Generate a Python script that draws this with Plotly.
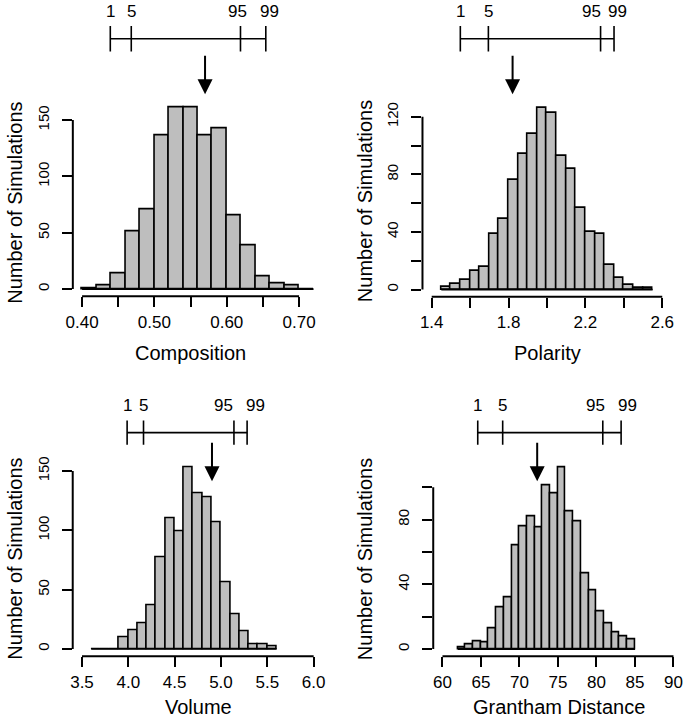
import plotly.graph_objects as go

W, H = 686, 720

# ---------------- data ----------------
comp_bin_start = 0.40
comp_bin_width = 0.02
comp_counts = [1, 3, 14, 51, 71, 136, 161, 161, 136, 143, 65, 39, 11, 5, 3, 0]
comp_xlim = [0.40, 0.72]
comp_xticks = [0.40, 0.45, 0.50, 0.55, 0.60, 0.65, 0.70]
comp_xticklabels = ["0.40", "", "0.50", "", "0.60", "", "0.70"]
comp_yticks = [0, 50, 100, 150]
comp_yticklabels = ["0", "50", "100", "150"]
comp_percentiles = [0.439, 0.468, 0.619, 0.654]
comp_observed = 0.570

pol_bin_start = 1.45
pol_bin_width = 0.05
pol_counts = [2, 4, 7, 13, 16, 39, 49, 76, 94, 108, 126, 123, 93, 84, 57, 40, 39, 17, 8, 3, 1, 1]
pol_xlim = [1.4, 2.6]
pol_xticks = [1.4, 1.6, 1.8, 2.0, 2.2, 2.4, 2.6]
pol_xticklabels = ["1.4", "", "1.8", "", "2.2", "", "2.6"]
pol_yticks = [0, 20, 40, 60, 80, 100, 120]
pol_yticklabels = ["0", "", "40", "", "80", "", "120"]
pol_percentiles = [1.549, 1.695, 2.279, 2.349]
pol_observed = 1.821

vol_bin_start = 3.6
vol_bin_width = 0.1
vol_counts = [0, 0, 0, 10, 16, 22, 37, 77, 110, 99, 153, 131, 128, 107, 56, 29, 15, 4, 4, 2]
vol_xlim = [3.5, 6.0]
vol_xticks = [3.5, 4.0, 4.5, 5.0, 5.5, 6.0]
vol_xticklabels = ["3.5", "4.0", "4.5", "5.0", "5.5", "6.0"]
vol_yticks = [0, 50, 100, 150]
vol_yticklabels = ["0", "50", "100", "150"]
vol_percentiles = [3.987, 4.164, 5.140, 5.282]
vol_observed = 4.903

gd_bin_start = 62
gd_bin_width = 1
gd_counts = [1, 3, 5, 4, 13, 26, 32, 64, 76, 82, 75, 101, 96, 112, 85, 79, 47, 36, 23, 16, 10, 8, 6]
gd_xlim = [60, 90]
gd_xticks = [60, 65, 70, 75, 80, 85, 90]
gd_xticklabels = ["60", "65", "70", "75", "80", "85", "90"]
gd_yticks = [0, 20, 40, 60, 80, 100]
gd_yticklabels = ["0", "", "40", "", "80", ""]
gd_percentiles = [64.58, 67.82, 80.82, 83.20]
gd_observed = 72.3

percentile_labels = ["1", "5", "95", "99"]
x_titles = ["Composition", "Polarity", "Volume", "Grantham Distance"]
y_title = "Number of Simulations"

panels_data = [
    (comp_bin_start, comp_bin_width, comp_counts, comp_xlim, comp_xticks, comp_xticklabels,
     comp_yticks, comp_yticklabels, comp_percentiles, comp_observed),
    (pol_bin_start, pol_bin_width, pol_counts, pol_xlim, pol_xticks, pol_xticklabels,
     pol_yticks, pol_yticklabels, pol_percentiles, pol_observed),
    (vol_bin_start, vol_bin_width, vol_counts, vol_xlim, vol_xticks, vol_xticklabels,
     vol_yticks, vol_yticklabels, vol_percentiles, vol_observed),
    (gd_bin_start, gd_bin_width, gd_counts, gd_xlim, gd_xticks, gd_xticklabels,
     gd_yticks, gd_yticklabels, gd_percentiles, gd_observed),
]

# ---------------- layout geometry (pixels) ----------------
geom = [
    dict(x0=66.7, x1=320.0, y0=97.0, y1=294.0, bar_y=35, tick_half=12.8, lab_y=8,
         arrow_tail=50.7, arrow_tip=90.7, xt_x=186.3, xt_y=351, yt_x=8, yt_y=200,
         lab_shift=[0, 0, -3, 4]),
    dict(x0=421.0, x1=673.3, y0=97.5, y1=294.5, bar_y=35, tick_half=12.8, lab_y=8,
         arrow_tail=50.7, arrow_tip=90.7, xt_x=547.2, xt_y=351, yt_x=363, yt_y=198,
         lab_shift=[0, 0, -9, 3]),
    dict(x0=66.6, x1=320.1, y0=458.8, y1=655.8, bar_y=431, tick_half=12.2, lab_y=403.5,
         arrow_tail=440, arrow_tip=480, xt_x=194.3, xt_y=707, yt_x=8, yt_y=558,
         lab_shift=[0, 0, -10, 8]),
    dict(x0=431.9, x1=684.7, y0=459.0, y1=656.0, bar_y=431, tick_half=12.2, lab_y=403.5,
         arrow_tail=440, arrow_tip=480, xt_x=559.7, xt_y=707, yt_x=363, yt_y=558,
         lab_shift=[0, 0, -7, 6]),
]

FONT = "Liberation Sans, Arial, Helvetica, sans-serif"
BAR_FILL = "#bebebe"
LW = 1.6
AXW = 2


def px(x):
    return x / W


def py(y):
    return 1 - y / H


fig = go.Figure()
shapes = []
annotations = []
layout_axes = {}

for i, (data, g) in enumerate(zip(panels_data, geom), start=1):
    (bstart, bwidth, counts, xlim, xticks, xtl, yticks, ytl, pct, obs) = data
    sfx = "" if i == 1 else str(i)
    xa, ya = "x" + sfx, "y" + sfx
    nb = len(counts)
    centers = [bstart + bwidth * (k + 0.5) for k in range(nb)]
    edge_lo, edge_hi = bstart, bstart + bwidth * nb

    fig.add_trace(go.Bar(
        x=centers, y=counts, width=bwidth,
        marker=dict(color=BAR_FILL, line=dict(color="black", width=LW)),
        xaxis=xa, yaxis=ya, showlegend=False, cliponaxis=False, hoverinfo="skip"))
    fig.add_trace(go.Scatter(
        x=[edge_lo, edge_hi], y=[0, 0], mode="lines",
        line=dict(color="black", width=LW),
        xaxis=xa, yaxis=ya, showlegend=False, cliponaxis=False, hoverinfo="skip"))

    dx = (xlim[1] - xlim[0]) * 0.04
    ymax = max(counts)
    dy = ymax * 0.04
    layout_axes["xaxis" + sfx] = dict(
        domain=[px(g["x0"]), px(g["x1"])], range=[xlim[0] - dx, xlim[1] + dx],
        anchor=ya, tickmode="array", tickvals=xticks, ticktext=xtl,
        ticks="outside", ticklen=10, tickwidth=AXW, tickcolor="black",
        showline=False, showgrid=False, zeroline=False,
        tickfont=dict(family=FONT, size=17, color="black"), fixedrange=True)
    layout_axes["yaxis" + sfx] = dict(
        domain=[py(g["y1"]), py(g["y0"])], range=[-dy, ymax + dy],
        anchor=xa, tickmode="array", tickvals=yticks, ticktext=ytl, tickangle=-90,
        ticks="outside", ticklen=10, tickwidth=AXW, tickcolor="black",
        ticklabelstandoff=7,
        showline=False, showgrid=False, zeroline=False,
        tickfont=dict(family=FONT, size=15, color="black"), fixedrange=True)

    # axis lines spanning first to last tick (R style)
    shapes.append(dict(type="line", xref=xa, yref="paper",
                       x0=xticks[0], x1=xticks[-1], y0=py(g["y1"]), y1=py(g["y1"]),
                       line=dict(color="black", width=AXW)))
    shapes.append(dict(type="line", xref="paper", yref=ya,
                       x0=px(g["x0"]), x1=px(g["x0"]), y0=yticks[0], y1=yticks[-1],
                       line=dict(color="black", width=AXW)))

    # percentile bar
    shapes.append(dict(type="line", xref=xa, yref="paper",
                       x0=pct[0], x1=pct[-1], y0=py(g["bar_y"]), y1=py(g["bar_y"]),
                       line=dict(color="black", width=LW)))
    for k, p in enumerate(pct):
        shapes.append(dict(type="line", xref=xa, yref="paper",
                           x0=p, x1=p, y0=py(g["bar_y"] - g["tick_half"]),
                           y1=py(g["bar_y"] + g["tick_half"]),
                           line=dict(color="black", width=LW)))
        annotations.append(dict(x=p, y=py(g["lab_y"]), xref=xa, yref="paper",
                                text=percentile_labels[k], showarrow=False,
                                xanchor="center", yanchor="middle",
                                xshift=g["lab_shift"][k],
                                font=dict(family=FONT, size=17, color="black")))

    # observed value arrow
    annotations.append(dict(x=obs, y=py(g["arrow_tip"]), xref=xa, yref="paper",
                            text="", showarrow=True, arrowhead=2, arrowsize=1.5,
                            arrowwidth=2, arrowcolor="black", standoff=0,
                            ax=0, ay=-(g["arrow_tip"] - g["arrow_tail"])))

    # axis titles
    annotations.append(dict(x=px(g["xt_x"]), y=py(g["xt_y"]), xref="paper", yref="paper",
                            text=x_titles[i - 1], showarrow=False,
                            xanchor="center", yanchor="middle",
                            font=dict(family=FONT, size=20, color="black")))
    annotations.append(dict(x=px(g["yt_x"]), y=py(g["yt_y"]), xref="paper", yref="paper",
                            text=y_title, showarrow=False, textangle=-90,
                            xanchor="center", yanchor="middle",
                            font=dict(family=FONT, size=20, color="black")))

fig.update_layout(
    width=W, height=H, margin=dict(l=0, r=0, t=0, b=0),
    paper_bgcolor="white", plot_bgcolor="white",
    showlegend=False, bargap=0,
    shapes=shapes, annotations=annotations,
    **layout_axes)

fig.write_html("out.html", config={"displayModeBar": False},
               post_script="document.body.style.margin='0';document.body.style.padding='0';")
